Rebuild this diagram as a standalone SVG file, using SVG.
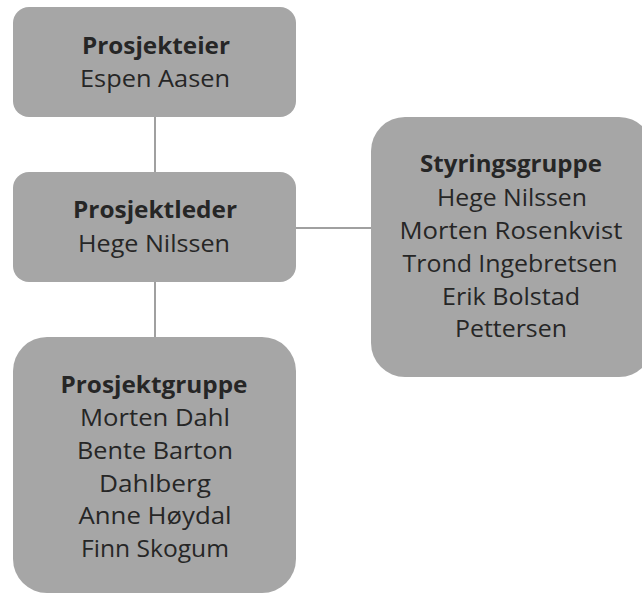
<svg xmlns="http://www.w3.org/2000/svg" width="642" height="594" viewBox="0 0 642 594">
<style>
.box{fill:#a6a6a6;}
.t{font-family:"Open Sans","Noto Sans","Liberation Sans",sans-serif;font-size:23px;fill:#262626;text-anchor:middle;}
.b{font-weight:bold;}
.c{stroke:#808080;stroke-width:1.5;fill:none;}
</style>
<rect width="642" height="594" fill="#ffffff"/>
<g id="connectors">
<line class="c" x1="155" y1="117" x2="155" y2="172"/>
<line class="c" x1="155" y1="282" x2="155" y2="337"/>
<line class="c" x1="296" y1="228" x2="371" y2="228"/>
</g>
<g id="prosjekteier">
<rect class="box" x="13" y="7" width="283" height="110" rx="16"/>
<text class="t b" x="156" y="54" textLength="148" lengthAdjust="spacingAndGlyphs">Prosjekteier</text>
<text class="t" x="155" y="87" textLength="150" lengthAdjust="spacingAndGlyphs">Espen Aasen</text>
</g>
<g id="prosjektleder">
<rect class="box" x="13" y="172" width="283" height="110" rx="16"/>
<text class="t b" x="155" y="218" textLength="164" lengthAdjust="spacingAndGlyphs">Prosjektleder</text>
<text class="t" x="154" y="252" textLength="152" lengthAdjust="spacingAndGlyphs">Hege Nilssen</text>
</g>
<g id="styringsgruppe">
<rect class="box" x="371" y="117" width="282" height="260" rx="34"/>
<text class="t b" x="511" y="172" textLength="182" lengthAdjust="spacingAndGlyphs">Styringsgruppe</text>
<text class="t" x="512" y="206" textLength="150" lengthAdjust="spacingAndGlyphs">Hege Nilssen</text>
<text class="t" x="511" y="239" textLength="223" lengthAdjust="spacingAndGlyphs">Morten Rosenkvist</text>
<text class="t" x="510" y="272" textLength="215" lengthAdjust="spacingAndGlyphs">Trond Ingebretsen</text>
<text class="t" x="511" y="305" textLength="138" lengthAdjust="spacingAndGlyphs">Erik Bolstad</text>
<text class="t" x="511" y="337" textLength="112" lengthAdjust="spacingAndGlyphs">Pettersen</text>
</g>
<g id="prosjektgruppe">
<rect class="box" x="13" y="337" width="283" height="256" rx="34"/>
<text class="t b" x="154" y="393" textLength="187" lengthAdjust="spacingAndGlyphs">Prosjektgruppe</text>
<text class="t" x="155" y="426" textLength="150" lengthAdjust="spacingAndGlyphs">Morten Dahl</text>
<text class="t" x="155" y="459" textLength="156" lengthAdjust="spacingAndGlyphs">Bente Barton</text>
<text class="t" x="155" y="492" textLength="112" lengthAdjust="spacingAndGlyphs">Dahlberg</text>
<text class="t" x="155" y="524" textLength="153" lengthAdjust="spacingAndGlyphs">Anne Høydal</text>
<text class="t" x="155" y="557" textLength="148" lengthAdjust="spacingAndGlyphs">Finn Skogum</text>
</g>
</svg>
